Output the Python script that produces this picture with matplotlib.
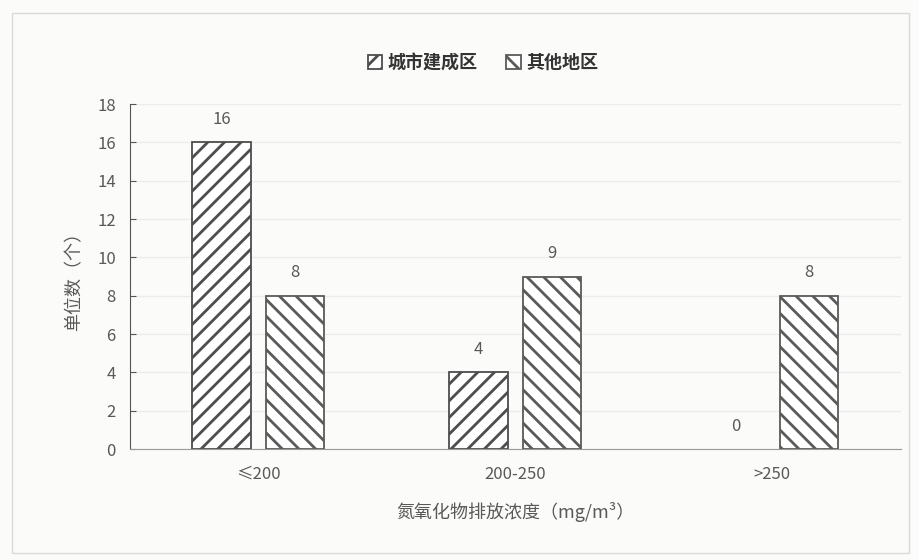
import numpy as np
import matplotlib
matplotlib.use("Agg")
from matplotlib import pyplot as plt
from matplotlib.patches import Rectangle

plt.rcParams['font.family'] = ['Noto Sans CJK SC', 'DejaVu Sans']
plt.rcParams['hatch.linewidth'] = 2.0
plt.rcParams['hatch.color'] = '#555555'

# data
categories = ['≤200', '200-250', '>250']
series_names = ['城市建成区', '其他地区']
urban = [16, 4, 0]
other = [8, 9, 8]

txt = '#595959'
fig = plt.figure(figsize=(9.2, 5.6), dpi=100)
fig.patch.set_facecolor('#fbfbfa')
# light frame round the chart
fig.patches.append(Rectangle((0.013, 0.012), 0.975, 0.965, transform=fig.transFigure,
                             fill=False, edgecolor='#d9d9d9', lw=1.0))
ax = fig.add_axes([0.141, 0.198, 0.838, 0.616])
ax.set_facecolor('#fbfbfa')

x = np.arange(len(categories))
w = 0.227
off = 0.143
b1 = ax.bar(x - off, urban, w, facecolor='white', edgecolor='#4d4d4d', lw=1.3,
            hatch='//', label=series_names[0])
b2 = ax.bar(x + off, other, w, facecolor='white', edgecolor='#5a5a5a', lw=1.3,
            hatch='\\\\', label=series_names[1])

for bars in (b1, b2):
    for r in bars:
        h = r.get_height()
        if h == 0:
            r.set_linewidth(0)  # empty bar shows no outline
        ax.text(r.get_x() + r.get_width() / 2, h + 0.75, '%d' % h, ha='center', va='bottom',
                fontsize=12, color=txt)

ax.set_ylim(0, 18)
ax.set_xlim(-0.5, 2.5)
ax.set_yticks(range(0, 19, 2))
ax.set_xticks(x)
ax.set_xticklabels(categories)
ax.tick_params(axis='y', direction='in', length=4, color='#555555', labelcolor=txt,
               labelsize=12, pad=10)
ax.tick_params(axis='x', length=0, labelcolor=txt, labelsize=12, pad=12)
ax.grid(axis='y', color='#ececec', lw=1.0)
ax.set_axisbelow(True)
for s in ('top', 'right'):
    ax.spines[s].set_visible(False)
ax.spines['left'].set_color('#555555')
ax.spines['bottom'].set_color('#9a9a9a')

ax.set_ylabel('单位数（个）', fontsize=13, color=txt, labelpad=10)
ax.set_xlabel('氮氧化物排放浓度（mg/m³）', fontsize=13, color=txt, labelpad=14)

leg = fig.legend(handles=[b1, b2], loc='center', bbox_to_anchor=(0.525, 0.888), ncol=2,
                 frameon=False, fontsize=13, handlelength=0.8, handleheight=0.8,
                 handletextpad=0.3, columnspacing=1.6)
for t in leg.get_texts():
    t.set_color('#333333')
    t.set_fontweight('bold')

fig.savefig('out.png', dpi=100, facecolor=fig.get_facecolor())
